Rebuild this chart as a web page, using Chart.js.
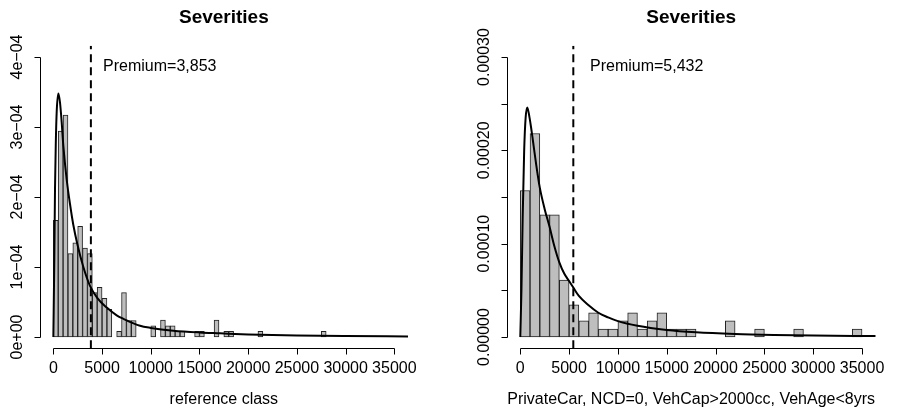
<!DOCTYPE html>
<html><head><meta charset="utf-8">
<script src="https://cdn.jsdelivr.net/npm/chart.js@4.4.1/dist/chart.umd.min.js"></script>
<style>
html,body{margin:0;padding:0;background:#fff;}
#wrap{position:relative;width:899px;height:410px;overflow:hidden;background:#fff;}
.pane{position:absolute;top:0;height:410px;}
canvas{display:block;}
</style></head><body>
<div id="wrap">
<div class="pane" style="left:0;width:450px"><canvas id="c1" width="450" height="410"></canvas></div>
<div class="pane" style="left:450px;width:449px"><canvas id="c2" width="449" height="410"></canvas></div>
</div>
<script>
// ---------- data ----------
const titleText = "Severities";
const leftXLabel = "reference class";
const rightXLabel = "PrivateCar, NCD=0, VehCap>2000cc, VehAge<8yrs";

const xTicks = [0, 5000, 10000, 15000, 20000, 25000, 30000, 35000];
const xTickLabels = ["0", "5000", "10000", "15000", "20000", "25000", "30000", "35000"];

const leftYTicks = [0, 0.0001, 0.0002, 0.0003, 0.0004];
const leftYTickLabels = ["0e+00", "1e\u221204", "2e\u221204", "3e\u221204", "4e\u221204"];
const rightYTicks = [0, 0.00005, 0.0001, 0.00015, 0.0002, 0.00025, 0.0003];
const rightYTickLabels = ["0.00000", "", "0.00010", "", "0.00020", "", "0.00030"];

const leftBinWidth = 500;
const leftDensity = [
  0.0001665, 0.000294, 0.000317, 0.000119, 0.0001345, 0.000158, 0.000127, 0.000119,
  0.0000633, 0.000071, 0.0000553, 0.0000396, 0, 0.000008, 0.0000633, 0.0000235,
  0.0000235, 0, 0, 0, 0.000016, 0, 0.000024, 0.000016,
  0.000016, 0.000008, 0.000008, 0, 0, 0.000008, 0.000008, 0,
  0, 0.000024, 0, 0.000008, 0.000008, 0, 0, 0,
  0, 0, 0.000008, 0, 0, 0, 0, 0,
  0, 0, 0, 0, 0, 0, 0, 0.000008
];

const rightBinWidth = 1000;
const rightDensity = [
  0.000157, 0.000218, 0.000131, 0.000131, 0.000061, 0.0000344, 0.0000172, 0.0000258,
  0.0000086, 0.0000086, 0.0000172, 0.0000258, 0.0000086, 0.0000172, 0.0000258, 0.0000086,
  0.0000086, 0.0000086, 0, 0, 0, 0.0000172, 0, 0,
  0.0000086, 0, 0, 0, 0.0000086, 0, 0, 0,
  0, 0, 0.0000086
];

const leftCurveX = [0, 100, 171, 250, 342, 513, 684, 855, 1026, 1368, 1710, 2052, 2460, 3080, 3762, 4500, 5480, 6500, 7190, 8900, 10000, 12320, 15000, 17100, 20000, 25000, 30000, 36400];
const leftCurveY = [0, 0.00011, 0.000211, 0.000275, 0.000321, 0.000348, 0.000335, 0.000307, 0.000273, 0.000225, 0.00019, 0.00016, 0.000133, 0.0001, 0.000073, 0.000056, 0.000042, 0.000031, 0.000026, 0.000016, 0.000013, 0.000009, 0.0000065, 0.0000053, 0.0000037, 0.0000022, 0.0000014, 0.0000008];

const rightCurveX = [0, 120, 250, 400, 550, 717, 900, 1100, 1300, 1600, 2000, 2500, 3000, 3500, 4000, 4500, 5000, 5430, 6000, 7000, 8000, 9000, 10000, 12000, 15000, 18000, 22000, 26000, 30000, 36400];
const rightCurveY = [0, 0.00005, 0.00013, 0.0002, 0.000235, 0.000246, 0.000238, 0.000225, 0.00021, 0.000187, 0.00016, 0.000137, 0.000118, 0.000097, 0.00008, 0.000068, 0.00006, 0.000053, 0.000044, 0.000034, 0.000026, 0.000021, 0.000017, 0.000012, 0.0000075, 0.000005, 0.0000032, 0.0000022, 0.0000016, 0.000001];

const leftPremium = 3853, rightPremium = 5432;
const leftPremiumLabel = "Premium=3,853", rightPremiumLabel = "Premium=5,432";
const leftPremiumLabelPos = [5100, 0.000387];
const rightPremiumLabelPos = [7140, 0.00029];

const xLim = [-1400, 36400];
const leftYLim = [-0.000016, 0.000416];
const rightYLim = [-0.000012, 0.000312];

// ---------- drawing ----------
const FONT = '"Liberation Sans", Arial, Helvetica, sans-serif';

function rAxes(cfg) {
  return {
    id: 'rAxes',
    afterDraw(chart) {
      const ctx = chart.ctx, xs = chart.scales.x, ys = chart.scales.y, ca = chart.chartArea;
      ctx.save();
      ctx.strokeStyle = '#000'; ctx.fillStyle = '#000'; ctx.lineWidth = 1;
      // x axis
      const yAx = Math.round(ca.bottom) + 0.5;
      const xa = Math.round(xs.getPixelForValue(cfg.xTicks[0])) + 0.5;
      const xb = Math.round(xs.getPixelForValue(cfg.xTicks[cfg.xTicks.length - 1])) + 0.5;
      ctx.beginPath();
      ctx.moveTo(xa, yAx); ctx.lineTo(xb, yAx);
      cfg.xTicks.forEach(v => {
        const px = Math.round(xs.getPixelForValue(v)) + 0.5;
        ctx.moveTo(px, yAx); ctx.lineTo(px, yAx + 6);
      });
      ctx.stroke();
      ctx.font = '16px ' + FONT; ctx.textAlign = 'center'; ctx.textBaseline = 'middle';
      cfg.xTicks.forEach((v, i) => ctx.fillText(cfg.xTickLabels[i], xs.getPixelForValue(v), yAx + 20.5));
      // y axis
      const xAx = Math.round(ca.left) + 0.5;
      const ya = Math.round(ys.getPixelForValue(cfg.yTicks[0])) + 0.5;
      const yb = Math.round(ys.getPixelForValue(cfg.yTicks[cfg.yTicks.length - 1])) + 0.5;
      ctx.beginPath();
      ctx.moveTo(xAx, ya); ctx.lineTo(xAx, yb);
      cfg.yTicks.forEach(v => {
        const py = Math.round(ys.getPixelForValue(v)) + 0.5;
        ctx.moveTo(xAx, py); ctx.lineTo(xAx - 6, py);
      });
      ctx.stroke();
      cfg.yTicks.forEach((v, i) => {
        const lab = cfg.yTickLabels[i];
        if (!lab) return;
        ctx.save();
        ctx.translate(xAx - 23, ys.getPixelForValue(v));
        ctx.rotate(-Math.PI / 2);
        ctx.fillText(lab, 0, 0);
        ctx.restore();
      });
      // title
      const cx = (ca.left + ca.right) / 2;
      ctx.font = 'bold 19px ' + FONT;
      ctx.fillText(cfg.title, cx, 18);
      // x label
      ctx.font = '16px ' + FONT;
      ctx.fillText(cfg.xLabel, cx, 400);
      // premium label
      ctx.textAlign = 'left';
      ctx.fillText(cfg.premLabel, xs.getPixelForValue(cfg.premPos[0]), ys.getPixelForValue(cfg.premPos[1]));
      ctx.restore();
    }
  };
}

function makeChart(id, binW, dens, cX, cY, prem, yLim, pad, cfg) {
  const bars = dens.map((d, i) => ({ x: (i + 0.5) * binW, y: d }));
  const curve = cX.map((x, i) => ({ x: x, y: cY[i] }));
  const vline = [{ x: prem, y: yLim[0] }, { x: prem, y: yLim[1] }];
  return new Chart(document.getElementById(id), {
    type: 'bar',
    data: {
      datasets: [
        { type: 'bar', data: bars, backgroundColor: '#bebebe', borderColor: '#222', borderWidth: 1,
          borderSkipped: false, barPercentage: 1, categoryPercentage: 1, grouped: false, order: 3 },
        { type: 'line', data: curve, borderColor: '#000', borderWidth: 2, pointRadius: 0,
          cubicInterpolationMode: 'monotone', fill: false, order: 2 },
        { type: 'line', data: vline, borderColor: '#000', borderWidth: 2, borderDash: [8, 5],
          pointRadius: 0, fill: false, order: 1 }
      ]
    },
    options: {
      responsive: false, animation: false, devicePixelRatio: 1,
      layout: { padding: pad },
      plugins: { legend: { display: false }, tooltip: { enabled: false } },
      scales: {
        x: { type: 'linear', min: xLim[0], max: xLim[1], offset: false, display: false },
        y: { type: 'linear', min: yLim[0], max: yLim[1], display: false }
      }
    },
    plugins: [rAxes(cfg)]
  });
}

makeChart('c1', leftBinWidth, leftDensity, leftCurveX, leftCurveY, leftPremium, leftYLim,
  { left: 39.7, right: 42, top: 45.8, bottom: 61.8 },
  { xTicks, xTickLabels, yTicks: leftYTicks, yTickLabels: leftYTickLabels, title: titleText,
    xLabel: leftXLabel, premLabel: leftPremiumLabel, premPos: leftPremiumLabelPos });

makeChart('c2', rightBinWidth, rightDensity, rightCurveX, rightCurveY, rightPremium, rightYLim,
  { left: 56.6, right: 23.3, top: 45.8, bottom: 61.8 },
  { xTicks, xTickLabels, yTicks: rightYTicks, yTickLabels: rightYTickLabels, title: titleText,
    xLabel: rightXLabel, premLabel: rightPremiumLabel, premPos: rightPremiumLabelPos });
</script>
</body></html>
